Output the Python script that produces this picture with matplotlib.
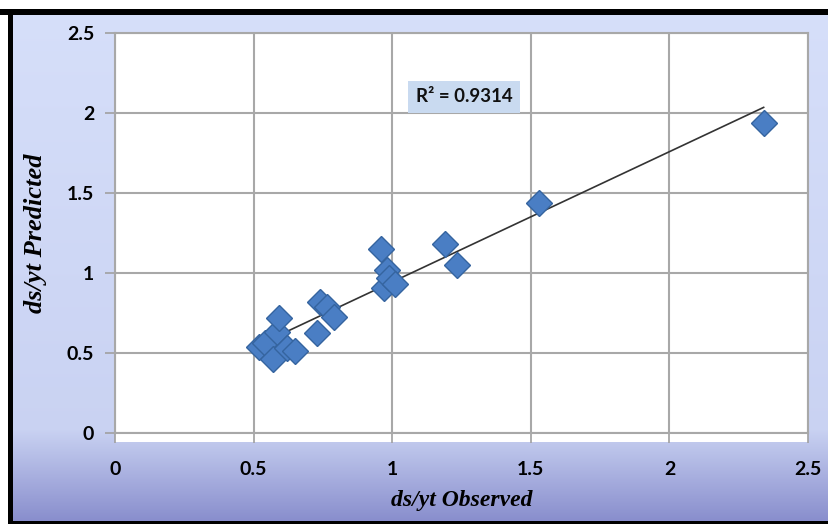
import numpy as np
import matplotlib
matplotlib.use("Agg")
import matplotlib.pyplot as plt
from matplotlib.patches import Rectangle

# observed vs predicted ds/yt
observed = [0.52, 0.54, 0.57, 0.585, 0.59, 0.62, 0.65, 0.73, 0.74, 0.765,
            0.79, 0.96, 0.97, 0.98, 0.99, 1.01, 1.19, 1.235, 1.53, 2.34]
predicted = [0.54, 0.56, 0.46, 0.63, 0.72, 0.53, 0.51, 0.625, 0.82, 0.79,
             0.725, 1.15, 0.905, 1.02, 0.97, 0.93, 1.18, 1.05, 1.44, 1.94]
r2_text = "R² = 0.9314"
ticks = [0, 0.5, 1, 1.5, 2, 2.5]
tick_labels = ["0", "0.5", "1", "1.5", "2", "2.5"]

W, H = 829, 524
fig = plt.figure(figsize=(W / 100, H / 100), dpi=100)

# background gradient (light blue -> darker blue at the bottom)
bg = fig.add_axes([0, 0, 1, 1], zorder=-10)
bg.set_axis_off()
rows = np.linspace(0, 1, 300)
top_c = np.array([0.84, 0.875, 0.98])
mid_c = np.array([0.79, 0.825, 0.95])
bot_c = np.array([0.53, 0.55, 0.80])
grad = np.zeros((300, 1, 3))
for i, r in enumerate(rows):
    if r < 0.82:
        t = r / 0.82
        grad[i, 0] = top_c * (1 - t) + mid_c * t
    else:
        t = (r - 0.82) / 0.18
        grad[i, 0] = mid_c * (1 - t) + bot_c * t
bg.imshow(grad, aspect="auto", extent=[0, 1, 0, 1], origin="upper")
bg.set_xlim(0, 1)
bg.set_ylim(0, 1)

# white strip on top / left and the black frame
fig.patches.append(Rectangle((0, 1 - 9 / H), 1, 9 / H, transform=fig.transFigure,
                             facecolor="white", edgecolor="none", zorder=-5))
fig.patches.append(Rectangle((0, 0), 8 / W, 1, transform=fig.transFigure,
                             facecolor="white", edgecolor="none", zorder=-5))
fig.patches.append(Rectangle((0, 1 - 15 / H), 1, 6 / H, transform=fig.transFigure,
                             facecolor="black", edgecolor="none", zorder=-4))
fig.patches.append(Rectangle((8 / W, 0), 5 / W, 1 - 9 / H, transform=fig.transFigure,
                             facecolor="black", edgecolor="none", zorder=-4))
fig.patches.append(Rectangle((8 / W, 0), 1, 3 / H, transform=fig.transFigure,
                             facecolor="black", edgecolor="none", zorder=-4))

left, right, top, bottom = 115, 808, 33, 433
ax = fig.add_axes([left / W, 1 - bottom / H, (right - left) / W, (bottom - top) / H])
ax.set_facecolor("white")
# white area continues a little under the x axis
fig.patches.append(Rectangle((left / W, 1 - (bottom + 9) / H), (right - left) / W, 9 / H,
                             transform=fig.transFigure, facecolor="white",
                             edgecolor="none", zorder=-3))

ax.set_xlim(0, 2.5)
ax.set_ylim(0, 2.5)
ax.set_xticks(ticks)
ax.set_yticks(ticks)
ax.set_xticklabels(tick_labels, fontfamily="Lato", fontweight="bold", fontsize=14)
ax.set_yticklabels(tick_labels, fontfamily="Lato", fontweight="bold", fontsize=14)
ax.tick_params(axis="both", length=7, width=1.2, color="#a0a0a0", direction="out")
ax.tick_params(axis="x", pad=13)
ax.tick_params(axis="y", pad=8)
ax.grid(True, color="#a8a8a8", linewidth=1.5)
ax.set_axisbelow(True)
for s in ax.spines.values():
    s.set_color("#a8a8a8")
    s.set_linewidth(1.5)

# linear trend line over the data range
k, b = np.polyfit(observed, predicted, 1)
xs = np.array([min(observed), max(observed)])
ax.plot(xs, k * xs + b, color="#333333", linewidth=1.2, zorder=3)

ax.plot(observed, predicted, linestyle="none", marker="D", markersize=13,
        markerfacecolor="#4a7ec4", markeredgecolor="#35649f", markeredgewidth=1.0,
        zorder=4)

ax.text(1.26, 2.1, r2_text, fontfamily="Lato", fontweight="bold", fontsize=13.5,
        ha="center", va="center", color="#111111",
        bbox=dict(boxstyle="square,pad=0.4", facecolor="#c9daf0", edgecolor="none"))

ax.set_xlabel("ds/yt Observed", fontfamily="Liberation Serif", fontstyle="italic",
              fontweight="bold", fontsize=17, labelpad=9)
ax.set_ylabel("ds/yt Predicted", fontfamily="Liberation Serif", fontstyle="italic",
              fontweight="bold", fontsize=19, labelpad=14)

fig.savefig("out.png", dpi=100)
